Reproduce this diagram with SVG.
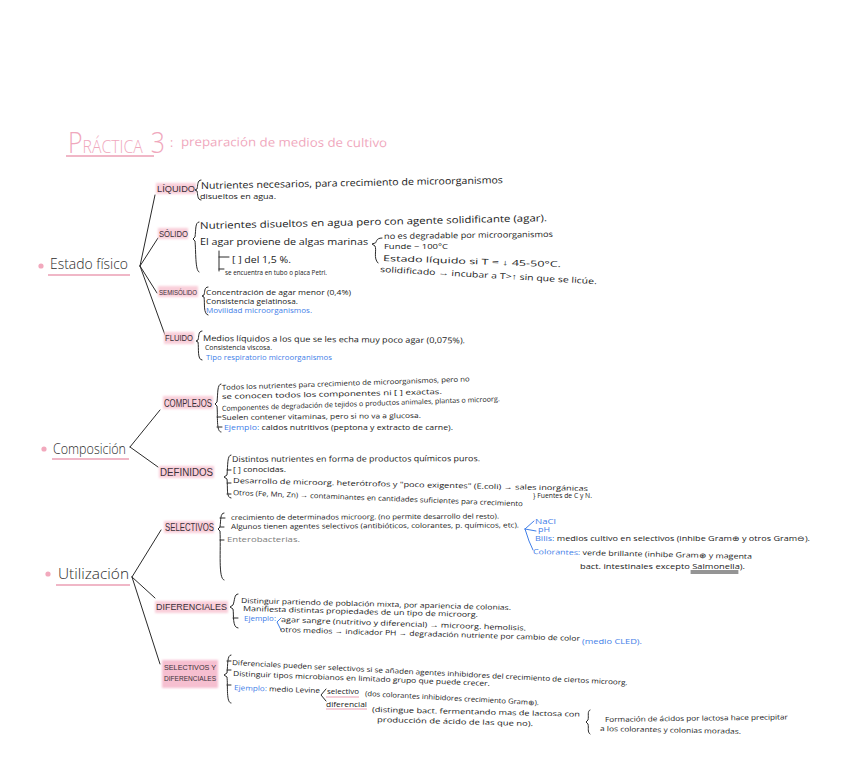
<svg xmlns="http://www.w3.org/2000/svg" width="848" height="776" viewBox="0 0 848 776">
<defs><filter id="soft" x="-20%" y="-30%" width="140%" height="160%"><feGaussianBlur stdDeviation="1.1"/></filter></defs>
<style>
text{font-family:"Open Sans","Liberation Sans",sans-serif;fill:#1a1a1a;font-size:8px}
.h{font-family:"Liberation Sans",sans-serif;font-size:9px;fill:#3a3038}
.hb{font-size:10px}
.s{font-size:7px}
.m{font-size:9.5px}
.r{font-size:14px;fill:#2b2b2b;font-weight:300}
.b,tspan.b{fill:#3f7ee8}
.g{fill:#7d7d7d}
.p{fill:#f0a8bd}
.hl{fill:#f9cfda;filter:url(#soft)}
.ln{fill:none;stroke:#2a2a2a;stroke-width:1;stroke-linecap:round;stroke-linejoin:round}
.bl{stroke:#3f7ee8}
.u{fill:none;stroke:#eb9fb4;stroke-width:1.7}
.dot{fill:#f2a9bd}
#background{fill:#fff}
</style>
<rect id="background" width="848" height="776"/>

<g id="title">
<text class="p" x="68" y="153" style="font-size:19px;font-weight:300" textLength="97" lengthAdjust="spacingAndGlyphs"><tspan style="font-size:30px">P</tspan>RÁCTICA<tspan dx="2" style="font-size:30px"> 3</tspan></text>
<text class="p" x="170" y="147" style="font-size:12px">:</text>
<text class="p" x="181" y="146" style="font-size:12px" textLength="206" lengthAdjust="spacingAndGlyphs" transform="rotate(0.3 181 146)">preparación de medios de cultivo</text>
<path class="u" d="M66 156H154"/>
</g>

<g id="connectors">
<path class="ln" d="M140 266L155 195M140 266L158 238M140 266L157 293M140 266L165 335"/>
<path class="ln" d="M130 447L160 410M130 447L158 467"/>
<path class="ln" d="M132 577L161 530M132 577L155 598M132 577L160 664"/>
</g>

<g id="estado-fisico">
<circle class="dot" cx="41" cy="266" r="2.6"/>
<text class="r" x="50" y="269" textLength="78" lengthAdjust="spacingAndGlyphs">Estado físico</text>
<path class="u" d="M48 275H130"/>
</g>
<g id="composicion">
<circle class="dot" cx="44" cy="449" r="2.6"/>
<text class="r" x="53" y="454" textLength="73" lengthAdjust="spacingAndGlyphs">Composición</text>
<path class="u" d="M52 459H129"/>
</g>
<g id="utilizacion">
<circle class="dot" cx="48" cy="574" r="2.6"/>
<text class="r" x="58" y="579" textLength="71" lengthAdjust="spacingAndGlyphs">Utilización</text>
<path class="u" d="M56 585H130"/>
</g>

<g id="liquido">
<rect class="hl" x="156" y="183" width="40" height="11"/>
<text class="h" x="157" y="192" textLength="38" lengthAdjust="spacingAndGlyphs">LÍQUIDO</text>
<path class="ln" d="M201 180C197 180 198 186 197 189L195 190L197 191C198 194 197 200 201 200"/>
<text class="m" x="201" y="189" textLength="302" lengthAdjust="spacingAndGlyphs" transform="rotate(-1.1 201 189)">Nutrientes necesarios, para crecimiento de microorganismos</text>
<text x="200" y="199" textLength="76" lengthAdjust="spacingAndGlyphs">disueltos en agua.</text>
</g>

<g id="solido">
<rect class="hl" x="158" y="228" width="30" height="11"/>
<text class="h" x="159" y="237" textLength="29" lengthAdjust="spacingAndGlyphs">SÓLIDO</text>
<path class="ln" d="M199 222C195 222 196 230 195 237L193 239L195 241C196 250 195 271 199 272"/>
<text class="m" x="200" y="229" textLength="347" lengthAdjust="spacingAndGlyphs" transform="rotate(-1.3 200 229)">Nutrientes disueltos en agua pero con agente solidificante (agar).</text>
<text class="m" x="200" y="245" textLength="168" lengthAdjust="spacingAndGlyphs">El agar proviene de algas marinas</text>
<path class="ln" d="M219 251V271M219 257H229M219 269H224"/>
<text class="m" x="232" y="263" textLength="59" lengthAdjust="spacingAndGlyphs">[ ] del 1,5 %.</text>
<text class="s" x="225" y="275" textLength="102" lengthAdjust="spacingAndGlyphs">se encuentra en tubo o placa Petri.</text>
<path class="ln" d="M382 238C375 238 377 243 375 243L372 244L375 246C377 250 373 258 378 263"/>
<text x="384" y="239" textLength="169" lengthAdjust="spacingAndGlyphs" transform="rotate(-0.7 384 239)">no es degradable por microorganismos</text>
<text x="384" y="249" textLength="64" lengthAdjust="spacingAndGlyphs">Funde ~ 100°C</text>
<text x="383" y="261" textLength="178" lengthAdjust="spacingAndGlyphs" transform="rotate(2 383 261)">Estado líquido si T = ↓ 45-50°C.</text>
<text x="380" y="272" textLength="217" lengthAdjust="spacingAndGlyphs" transform="rotate(3.2 380 272)">solidificado → incubar a T&gt;↑ sin que se licúe.</text>
</g>

<g id="semisolido">
<rect class="hl" x="158" y="286" width="40" height="11"/>
<text class="h" x="159" y="295" textLength="38" lengthAdjust="spacingAndGlyphs" style="font-size:8px">SEMISÓLIDO</text>
<path class="ln" d="M208 287C204 287 205 292 204 295L202 296L204 297C205 303 203 314 208 315"/>
<text x="206" y="295" textLength="145" lengthAdjust="spacingAndGlyphs">Concentración de agar menor (0,4%)</text>
<text x="206" y="304" textLength="92" lengthAdjust="spacingAndGlyphs" class="s">Consistencia gelatinosa.</text>
<text class="b s" x="206" y="313" textLength="106" lengthAdjust="spacingAndGlyphs">Movilidad microorganismos.</text>
</g>

<g id="fluido">
<rect class="hl" x="164" y="332" width="30" height="12"/>
<text class="h" x="165" y="341" textLength="28" lengthAdjust="spacingAndGlyphs">FLUIDO</text>
<path class="ln" d="M202 331C198 331 199 337 198 340L196 341L198 342C199 348 197 360 202 360"/>
<text x="203" y="341" textLength="262" lengthAdjust="spacingAndGlyphs" transform="rotate(0.5 203 341)">Medios líquidos a los que se les echa muy poco agar (0,075%).</text>
<text class="s" x="205" y="350" textLength="67" lengthAdjust="spacingAndGlyphs">Consistencia viscosa.</text>
<text class="b" x="206" y="360" textLength="126" lengthAdjust="spacingAndGlyphs">Tipo respiratorio microorganismos</text>
</g>

<g id="complejos">
<rect class="hl" x="163" y="396" width="50" height="13"/>
<text class="h hb" x="164" y="407" textLength="48" lengthAdjust="spacingAndGlyphs">COMPLEJOS</text>
<path class="ln" d="M221 384C217 384 218 394 217 402L215 404L217 406C218 416 216 432 221 432"/>
<text class="s" x="222" y="390" textLength="248" lengthAdjust="spacingAndGlyphs" transform="rotate(-2 222 390)">Todos los nutrientes para crecimiento de microorganismos, pero no</text>
<text class="s" x="222" y="399" textLength="220" lengthAdjust="spacingAndGlyphs" transform="rotate(-1.3 222 399)">se conocen todos los componentes ni [ ] exactas.</text>
<text class="s" x="222" y="411" textLength="278" lengthAdjust="spacingAndGlyphs" transform="rotate(-2 222 411)">Componentes de degradación de tejidos o productos animales, plantas o microorg.</text>
<text class="s" x="222" y="420" textLength="199" lengthAdjust="spacingAndGlyphs" transform="rotate(-0.6 222 420)">Suelen contener vitaminas, pero si no va a glucosa.</text>
<text class="s" x="224" y="430" textLength="229" lengthAdjust="spacingAndGlyphs"><tspan class="b">Ejemplo:</tspan> caldos nutritivos (peptona y extracto de carne).</text>
<path class="ln" d="M217 417H221M217 427H222"/>
</g>

<g id="definidos">
<rect class="hl" x="159" y="466" width="55" height="12"/>
<text class="h hb" x="160" y="476" textLength="53" lengthAdjust="spacingAndGlyphs">DEFINIDOS</text>
<path class="ln" d="M231 455C227 455 228 465 227 475L224 477L227 479C228 488 226 498 231 498"/>
<text x="232" y="462" textLength="248" lengthAdjust="spacingAndGlyphs" transform="rotate(-0.2 232 462)">Distintos nutrientes en forma de productos químicos puros.</text>
<text class="s" x="233" y="472" textLength="53" lengthAdjust="spacingAndGlyphs">[ ] conocidas.</text>
<text class="s" x="233" y="483" textLength="355" lengthAdjust="spacingAndGlyphs" transform="rotate(1.3 233 483)">Desarrollo de microorg. heterótrofos y "poco exigentes" (E.coli) → sales inorgánicas</text>
<text class="s" x="533" y="498" textLength="59" lengthAdjust="spacingAndGlyphs">} Fuentes de C y N.</text>
<text class="s" x="233" y="495" textLength="290" lengthAdjust="spacingAndGlyphs" transform="rotate(2.2 233 495)">Otros (Fe, Mn, Zn) → contaminantes en cantidades suficientes para crecimiento</text>
<path class="ln" d="M227 470H231M227 483H231M227 494H231"/>
</g>

<g id="selectivos">
<rect class="hl" x="164" y="521" width="50" height="12"/>
<text class="h hb" x="165" y="531" textLength="49" lengthAdjust="spacingAndGlyphs">SELECTIVOS</text>
<path class="ln" d="M224 513C220 513 221 520 220 527L218 529L220 531C221 550 218 579 224 580"/>
<path class="ln" d="M220 518H225M220 527H224M220 540H224"/>
<text class="s" x="231" y="520" textLength="268" lengthAdjust="spacingAndGlyphs" transform="rotate(-0.3 231 520)">crecimiento de determinados microorg. (no permite desarrollo del resto).</text>
<text class="s" x="231" y="529" textLength="288" lengthAdjust="spacingAndGlyphs" transform="rotate(-0.3 231 529)">Algunos tienen agentes selectivos (antibióticos, colorantes, p. químicos, etc).</text>
<text class="g" x="227" y="542" textLength="73" lengthAdjust="spacingAndGlyphs">Enterobacterias.</text>
<path class="ln bl" d="M534 521L525 529M525 529L536 531M525 529L529 541L533 550"/>
<text class="b s" x="535" y="523.5" textLength="21" lengthAdjust="spacingAndGlyphs">NaCl</text>
<text class="b s" x="538" y="532" textLength="12" lengthAdjust="spacingAndGlyphs">pH</text>
<text class="s" x="535" y="541" textLength="275" lengthAdjust="spacingAndGlyphs"><tspan class="b">Bilis:</tspan> medios cultivo en selectivos (inhibe Gram⊕ y otros Gram⊖).</text>
<text class="s" x="533" y="554" textLength="219" lengthAdjust="spacingAndGlyphs" transform="rotate(1.3 533 554)"><tspan class="b">Colorantes:</tspan> verde brillante (inhibe Gram⊕ y magenta</text>
<text class="s" x="580" y="569" textLength="165" lengthAdjust="spacingAndGlyphs">bact. intestinales excepto Salmonella).</text>
<path class="ln" d="M691 571H738M691 573H738"/>
</g>

<g id="diferenciales">
<rect class="hl" x="155" y="601" width="73" height="12"/>
<text class="h" x="156" y="610" textLength="71" lengthAdjust="spacingAndGlyphs">DIFERENCIALES</text>
<path class="ln" d="M238 594C234 594 235 600 233 605L230 607L233 609C234 614 232 628 238 628"/>
<path class="ln" d="M233 618H238"/>
<text class="s" x="241" y="603" textLength="270" lengthAdjust="spacingAndGlyphs" transform="rotate(1.5 241 603)">Distinguir partiendo de población mixta, por apariencia de colonias.</text>
<text class="s" x="243" y="611" textLength="235" lengthAdjust="spacingAndGlyphs" transform="rotate(1.5 243 611)">Manifiesta distintas propiedades de un tipo de microorg.</text>
<text class="b s" x="244" y="621" textLength="32" lengthAdjust="spacingAndGlyphs">Ejemplo:</text>
<path class="ln bl" d="M281 618L277 622L281 630"/>
<text class="s" x="281" y="622" textLength="245" lengthAdjust="spacingAndGlyphs" transform="rotate(2 281 622)">agar sangre (nutritivo y diferencial) → microorg. hemolisis.</text>
<text class="s" x="280" y="632" textLength="300" lengthAdjust="spacingAndGlyphs" transform="rotate(1.7 280 632)">otros medios → indicador PH → degradación nutriente por cambio de color</text>
<text class="b s" x="582" y="644" textLength="60" lengthAdjust="spacingAndGlyphs">(medio CLED).</text>
</g>

<g id="selectivos-y-diferenciales">
<rect class="hl" x="162" y="660" width="56" height="28" style="fill:#f6bfd0"/>
<text class="h" x="164" y="670" textLength="52" lengthAdjust="spacingAndGlyphs" style="font-size:8px">SELECTIVOS Y</text>
<text class="h" x="164" y="681" textLength="52" lengthAdjust="spacingAndGlyphs" style="font-size:8px">DIFERENCIALES</text>
<path class="ln" d="M231 655C227 655 228 664 227 673L224 675L227 677C228 686 226 703 231 703"/>
<path class="ln" d="M227 661H231M227 670H231M227 685H231"/>
<text class="s" x="232" y="665" textLength="396" lengthAdjust="spacingAndGlyphs" transform="rotate(2.9 232 665)">Diferenciales pueden ser selectivos si se añaden agentes inhibidores del crecimiento de ciertos microorg.</text>
<text class="s" x="233" y="676" textLength="257" lengthAdjust="spacingAndGlyphs" transform="rotate(2.2 233 676)">Distinguir tipos microbianos en limitado grupo que puede crecer.</text>
<text class="s" x="234" y="690" textLength="86" lengthAdjust="spacingAndGlyphs" transform="rotate(2 234 690)"><tspan class="b">Ejemplo:</tspan> medio Levine</text>
<path class="ln" d="M326 689L321 695L326 701"/>
<text class="s" x="327" y="694" textLength="32" lengthAdjust="spacingAndGlyphs">selectivo</text>
<path class="u" d="M326 697H359M326 709H367" style="stroke-width:1.2"/>
<text class="s" x="365" y="696" textLength="174" lengthAdjust="spacingAndGlyphs" transform="rotate(3 365 696)">(dos colorantes inhibidores crecimiento Gram⊕).</text>
<text class="s" x="326" y="707" textLength="41" lengthAdjust="spacingAndGlyphs">diferencial</text>
<text class="s" x="372" y="712" textLength="208" lengthAdjust="spacingAndGlyphs" transform="rotate(1.3 372 712)">(distingue bact. fermentando mas de lactosa con</text>
<text class="s" x="377" y="722" textLength="156" lengthAdjust="spacingAndGlyphs" transform="rotate(1.5 377 722)">producción de ácido de las que no).</text>
<path class="ln" d="M590 710C587 711 589 716 588 720L586 722L588 724C589 728 587 732 590 734"/>
<text class="s" x="605" y="722" textLength="183" lengthAdjust="spacingAndGlyphs" transform="rotate(-0.8 605 722)">Formación de ácidos por lactosa hace precipitar</text>
<text class="s" x="600" y="731" textLength="141" lengthAdjust="spacingAndGlyphs" transform="rotate(1.2 600 731)">a los colorantes y colonias moradas.</text>
</g>
</svg>
